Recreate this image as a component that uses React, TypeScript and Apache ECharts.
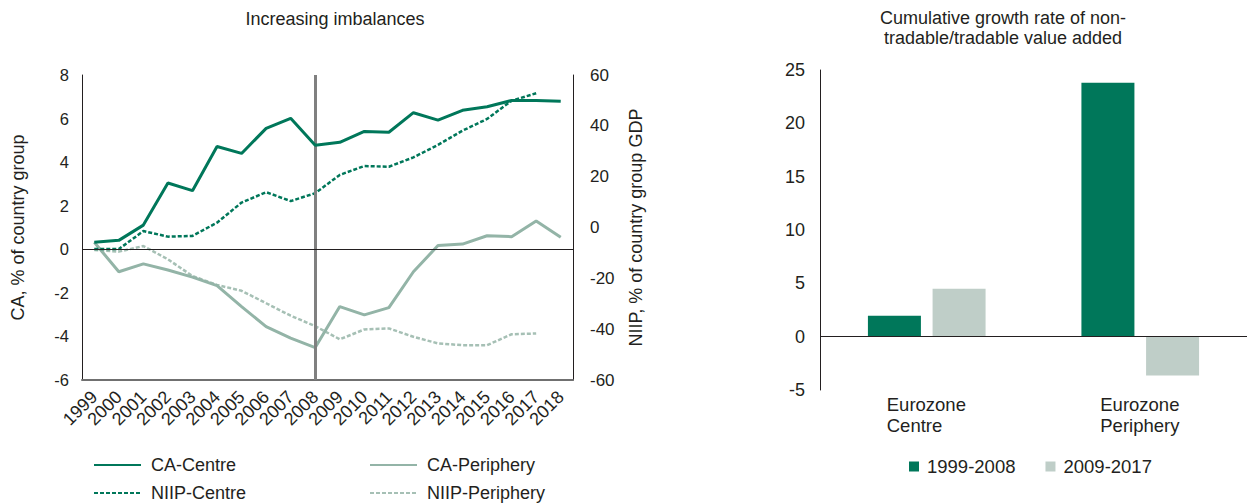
import React, { useEffect, useRef } from "react";
import * as echarts from "echarts";

const years = [
  "1999", "2000", "2001", "2002", "2003", "2004", "2005", "2006", "2007", "2008",
  "2009", "2010", "2011", "2012", "2013", "2014", "2015", "2016", "2017", "2018",
];
const caCentre = [0.32, 0.41, 1.11, 3.04, 2.69, 4.72, 4.4, 5.55, 6.01, 4.78, 4.91, 5.41, 5.37, 6.27, 5.93, 6.38, 6.54, 6.83, 6.83, 6.79];
const caPeriphery = [0.32, -1.03, -0.67, -0.95, -1.28, -1.67, -2.63, -3.55, -4.08, -4.51, -2.63, -3.01, -2.68, -1.03, 0.17, 0.24, 0.62, 0.58, 1.3, 0.55];
const niipCentre = [-8.5, -8.5, -1.4, -3.6, -3.3, 1.9, 9.8, 13.9, 10.4, 13.5, 20.7, 24.2, 23.9, 27.6, 32.5, 38.1, 42.7, 49.9, 52.8, null];
const niipPeriphery = [-8.9, -9.5, -7.3, -12.5, -19.1, -22.6, -24.9, -29.8, -34.7, -38.8, -44.0, -40.1, -39.7, -43.0, -45.6, -46.3, -46.3, -42.0, -41.7, null];
const markYear = "2008";

const barCategories = ["Eurozone Centre", "Eurozone Periphery"];
const bar19992008 = [1.95, 23.8];
const bar20092017 = [4.49, -3.65];

const DARK = "#00775A";
const LIGHT_LINE = "#93B4A7";
const LIGHT_DASH = "#A6C0B5";
const LIGHT_BAR = "#BFCEC8";
const TEXT = "#231F20";
const FONT = "'Liberation Sans', Arial, Helvetica, sans-serif";

function lineLegend(name: string, left: number, top: number) {
  return {
    orient: "horizontal",
    left,
    top,
    padding: 0,
    itemWidth: 47,
    itemHeight: 14,
    data: [name],
    itemStyle: { opacity: 0 },
    textStyle: { fontFamily: FONT, fontSize: 18, color: TEXT, padding: [0, 0, 0, 5] },
  };
}

export default function App() {
  const ref = useRef<HTMLDivElement>(null);
  useEffect(() => {
    document.body.style.margin = "0";
    const chart = echarts.init(ref.current!, undefined, { renderer: "svg" });
    const option: any = {
      animation: false,
      backgroundColor: "#ffffff",
      textStyle: { fontFamily: FONT, color: TEXT },
      title: [
        {
          text: "Increasing imbalances",
          left: 330,
          top: 5,
          textAlign: "center",
          textStyle: { fontFamily: FONT, fontSize: 18, fontWeight: "normal", color: TEXT },
        },
        {
          text: "Cumulative growth rate of non-\ntradable/tradable value added",
          left: 998,
          top: 3,
          textAlign: "center",
          textStyle: { fontFamily: FONT, fontSize: 18, fontWeight: "normal", color: TEXT, lineHeight: 20 },
        },
      ],
      legend: [
        lineLegend("CA-Centre", 93, 456),
        lineLegend("NIIP-Centre", 93, 484),
        lineLegend("CA-Periphery", 369, 456),
        lineLegend("NIIP-Periphery", 369, 484),
        {
          orient: "horizontal",
          left: 909,
          top: 457,
          padding: 0,
          icon: "rect",
          itemWidth: 10,
          itemHeight: 10,
          itemGap: 30,
          data: ["1999-2008", "2009-2017"],
          textStyle: { fontFamily: FONT, fontSize: 18.5, color: TEXT, padding: [0, 0, 0, 3] },
        },
      ],
      grid: [
        { left: 82, top: 75, width: 491, height: 305 },
        { left: 820, top: 70, width: 436, height: 320 },
      ],
      xAxis: [
        {
          type: "category",
          gridIndex: 0,
          data: years,
          boundaryGap: true,
          axisLine: { onZero: false, lineStyle: { color: "#707070", width: 2 } },
          axisTick: { show: false },
          axisLabel: { rotate: 45, fontSize: 18, color: TEXT, fontFamily: FONT, margin: 14, interval: 0 },
          splitLine: { show: false },
        },
        {
          type: "category",
          gridIndex: 1,
          data: barCategories,
          axisLine: { show: false, onZero: false },
          axisTick: { show: false },
          axisLabel: {
            margin: 4,
            interval: 0,
            formatter: (v: string) => v.split(" ").map((w) => "{a|" + w + "}").join("\n"),
            rich: {
              a: { width: 80, align: "left", fontSize: 18.5, lineHeight: 21, color: TEXT, fontFamily: FONT },
            },
          },
        },
      ],
      yAxis: [
        {
          type: "value",
          gridIndex: 0,
          min: -6,
          max: 8,
          interval: 2,
          name: "CA, % of country group",
          nameLocation: "middle",
          nameRotate: 90,
          nameGap: 55,
          nameTextStyle: { fontSize: 18, color: TEXT, fontFamily: FONT },
          axisLine: { show: true, lineStyle: { color: "#231F20", width: 1 } },
          axisTick: { show: false },
          splitLine: { show: false },
          axisLabel: { fontSize: 16.5, color: TEXT, fontFamily: FONT, margin: 13 },
        },
        {
          type: "value",
          gridIndex: 0,
          position: "right",
          min: -60,
          max: 60,
          interval: 20,
          name: "NIIP, % of country group GDP",
          nameLocation: "middle",
          nameRotate: 90,
          nameGap: 54,
          nameTextStyle: { fontSize: 18, color: TEXT, fontFamily: FONT },
          axisLine: { show: true, lineStyle: { color: "#231F20", width: 1 } },
          axisTick: { show: false },
          splitLine: { show: false },
          axisLabel: { fontSize: 17, color: TEXT, fontFamily: FONT, margin: 17 },
        },
        {
          type: "value",
          gridIndex: 1,
          min: -5,
          max: 25,
          interval: 5,
          axisLine: { show: true, lineStyle: { color: "#231F20", width: 1 } },
          axisTick: { show: false },
          splitLine: { show: false },
          axisLabel: { fontSize: 18, color: TEXT, fontFamily: FONT, margin: 15 },
        },
      ],
      series: [
        {
          name: "CA-Centre",
          type: "line",
          xAxisIndex: 0,
          yAxisIndex: 0,
          data: caCentre,
          symbol: "none",
          color: DARK,
          lineStyle: { color: DARK, width: 3 },
          z: 5,
          markLine: {
            silent: true,
            symbol: ["none", "none"],
            label: { show: false },
            data: [
              { xAxis: years.indexOf(markYear), lineStyle: { color: "#808080", width: 3, type: "solid" } },
              { yAxis: 0, lineStyle: { color: "#231F20", width: 1, type: "solid" } },
            ],
          },
        },
        {
          name: "CA-Periphery",
          type: "line",
          xAxisIndex: 0,
          yAxisIndex: 0,
          data: caPeriphery,
          symbol: "none",
          color: LIGHT_LINE,
          lineStyle: { color: LIGHT_LINE, width: 3 },
          z: 3,
        },
        {
          name: "NIIP-Centre",
          type: "line",
          xAxisIndex: 0,
          yAxisIndex: 1,
          data: niipCentre,
          symbol: "none",
          color: DARK,
          lineStyle: { color: DARK, width: 2.5, type: [4, 2] },
          z: 4,
        },
        {
          name: "NIIP-Periphery",
          type: "line",
          xAxisIndex: 0,
          yAxisIndex: 1,
          data: niipPeriphery,
          symbol: "none",
          color: LIGHT_DASH,
          lineStyle: { color: LIGHT_DASH, width: 2.5, type: [4, 2] },
          z: 2,
        },
        {
          name: "1999-2008",
          type: "bar",
          xAxisIndex: 1,
          yAxisIndex: 2,
          data: bar19992008,
          barWidth: 53,
          barGap: "22%",
          color: DARK,
          itemStyle: { color: DARK },
          markLine: {
            silent: true,
            symbol: ["none", "none"],
            label: { show: false },
            data: [{ yAxis: 0, lineStyle: { color: "#231F20", width: 1, type: "solid" } }],
          },
        },
        {
          name: "2009-2017",
          type: "bar",
          xAxisIndex: 1,
          yAxisIndex: 2,
          data: bar20092017,
          barWidth: 53,
          barGap: "22%",
          color: LIGHT_BAR,
          itemStyle: { color: LIGHT_BAR },
        },
      ],
    };
    chart.setOption(option);
    return () => chart.dispose();
  }, []);
  return <div ref={ref} style={{ width: 1247, height: 503 }} />;
}
